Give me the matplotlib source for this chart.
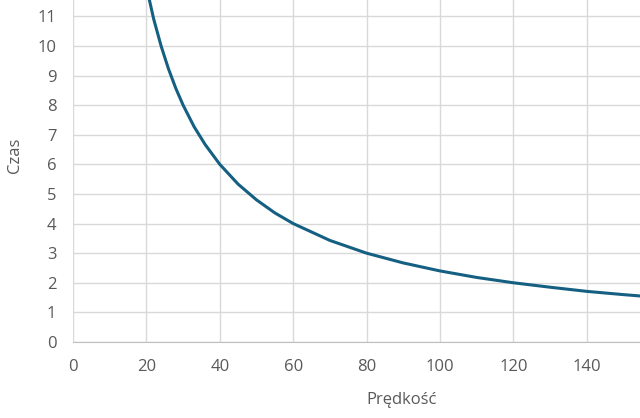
import numpy as np
import matplotlib.pyplot as plt

plt.rcParams['font.family'] = ['Open Sans', 'DejaVu Sans']

# speed vs time values
predkosc = [20, 22, 24, 26, 28, 30, 33, 36, 40, 45, 50, 55, 60, 70, 80, 90, 100, 110, 120, 130, 140, 150, 160]
czas = [12.0, 10.9, 10.0, 9.23, 8.57, 8.0, 7.27, 6.67, 6.0, 5.33, 4.8, 4.36, 4.0, 3.43, 3.0, 2.67, 2.4, 2.18, 2.0, 1.85, 1.71, 1.6, 1.5]

xticks = [0, 20, 40, 60, 80, 100, 120, 140]
yticks = list(range(0, 12))

fig = plt.figure(figsize=(6.4, 4.18), dpi=100)
ax = fig.add_axes([73/640, 76/418, 1 - 73/640, 1 - 76/418])

ax.plot(predkosc, czas, color='#156082', lw=2.2, solid_capstyle='round', zorder=3)

ax.set_xlim(0, 154.5)
ax.set_ylim(0, 11.55)
ax.set_xticks(xticks)
ax.set_yticks(yticks)
ax.grid(True, color='#d9d9d9', lw=1)
ax.set_axisbelow(True)
for s in ['top', 'right', 'left']:
    ax.spines[s].set_visible(False)
ax.spines['bottom'].set_color('#bfbfbf')
ax.tick_params(length=0, colors='#595959', labelsize=12)
ax.tick_params(axis='x', pad=12)
ax.tick_params(axis='y', pad=12)

fig.text(15/640, 1 - 155/418, 'Czas', rotation=90, ha='center', va='center', color='#595959', fontsize=12)
fig.text(402/640, 1 - 400/418, 'Prędkość', ha='center', va='center', color='#595959', fontsize=12)

plt.savefig('out.png', dpi=100)
